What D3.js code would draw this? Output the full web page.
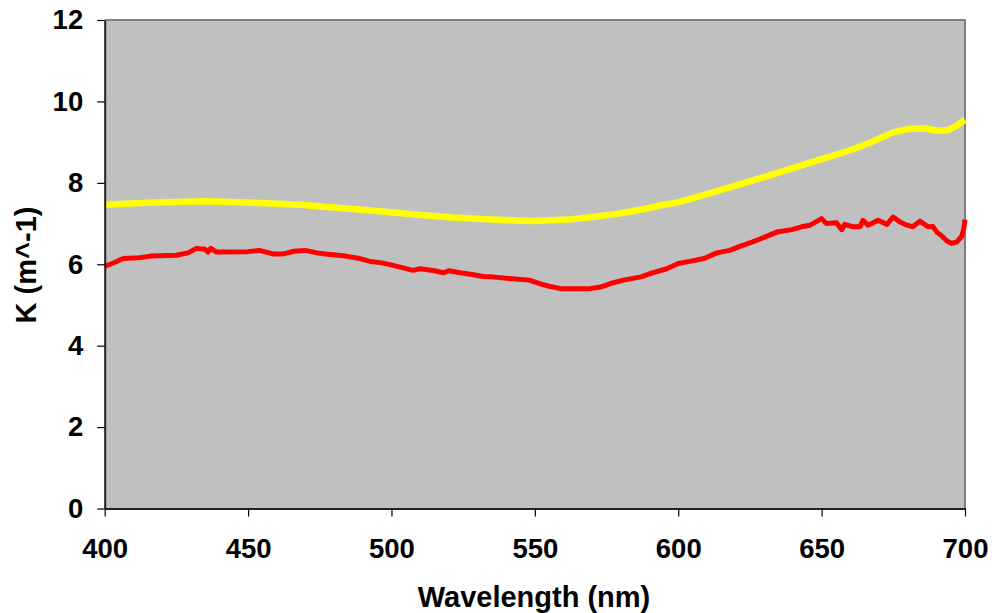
<!DOCTYPE html>
<html>
<head>
<meta charset="utf-8">
<script src="https://cdn.jsdelivr.net/npm/d3@7"></script>
<style>
  html, body { margin: 0; padding: 0; background: #ffffff; }
  svg { display: block; }
  text { font-family: "Liberation Sans", Arial, sans-serif; font-weight: bold; fill: #000; }
</style>
</head>
<body>
<svg id="chart" width="992" height="613"></svg>
<script>
// Wavelength (nm) and K (m^-1) values
const yellowWavelength = [400, 415, 435, 452, 468, 482, 495, 507, 521, 535, 549, 562, 570, 577, 583, 589, 594, 600, 610, 620, 628.5, 640, 650, 660, 668, 675, 680, 686, 690, 694, 697, 700];
const yellowK          = [7.46, 7.51, 7.55, 7.51, 7.46, 7.38, 7.31, 7.23, 7.15, 7.10, 7.06, 7.10, 7.16, 7.22, 7.29, 7.37, 7.45, 7.52, 7.72, 7.93, 8.11, 8.36, 8.58, 8.80, 9.02, 9.24, 9.32, 9.34, 9.28, 9.29, 9.40, 9.55];

const redWavelength = [400, 403, 406.5, 412, 416, 425, 429, 432, 435, 436, 437, 439, 450, 454, 459, 462, 466, 470, 474, 477, 484, 489, 492.5, 496, 499.5, 504, 507.5, 510, 515, 518, 520, 524, 528, 532, 535, 541, 548, 552, 555, 559, 569, 573, 577, 581, 587, 591, 596, 600, 604, 609, 613.5, 618, 621.5, 626, 631, 634.4, 639.6, 643, 646, 650, 651.7, 655.2, 657, 658.1, 661, 663.4, 664.4, 666.2, 669.7, 672.8, 674.9, 677.3, 679.8, 681.8, 684.3, 687.1, 688.8, 690.2, 692, 693.7, 695.4, 697.2, 698.9, 699.6, 700];
const redK          = [5.95, 6.03, 6.14, 6.16, 6.20, 6.22, 6.28, 6.39, 6.37, 6.30, 6.39, 6.30, 6.31, 6.34, 6.25, 6.25, 6.32, 6.34, 6.28, 6.25, 6.20, 6.14, 6.07, 6.04, 5.99, 5.91, 5.85, 5.89, 5.84, 5.79, 5.84, 5.79, 5.75, 5.70, 5.69, 5.65, 5.61, 5.52, 5.46, 5.40, 5.40, 5.44, 5.54, 5.61, 5.69, 5.79, 5.89, 6.02, 6.07, 6.14, 6.28, 6.34, 6.44, 6.55, 6.69, 6.79, 6.85, 6.92, 6.96, 7.12, 7.00, 7.02, 6.85, 6.98, 6.92, 6.92, 7.08, 6.96, 7.08, 6.98, 7.16, 7.04, 6.96, 6.92, 7.06, 6.92, 6.93, 6.79, 6.69, 6.57, 6.51, 6.55, 6.69, 6.88, 7.10];

const xTicks = [400, 450, 500, 550, 600, 650, 700];
const yTicks = [0, 2, 4, 6, 8, 10, 12];
const xTitle = "Wavelength (nm)";
const yTitle = "K (m^-1)";

const svg = d3.select("#chart");
const pLeft = 104.7, pRight = 965, pTop = 20, pBottom = 508.5;

const x = d3.scaleLinear().domain([400, 700]).range([pLeft, pRight]);
const y = d3.scaleLinear().domain([0, 12]).range([pBottom, pTop]);

// plot area
svg.append("rect")
  .attr("x", pLeft).attr("y", pTop)
  .attr("width", pRight - pLeft).attr("height", pBottom - pTop)
  .attr("fill", "#c0c0c0");

// top and right border (gray)
svg.append("path")
  .attr("d", `M${pLeft},${pTop}H${pRight}V${pBottom}`)
  .attr("fill", "none").attr("stroke", "#808080").attr("stroke-width", 2);

const line = d3.line().x(d => x(d[0])).y(d => y(d[1]));

const yellowData = yellowWavelength.map((w, i) => [w, yellowK[i]]);
const redData = redWavelength.map((w, i) => [w, redK[i]]);

svg.append("path").datum(yellowData)
  .attr("d", line).attr("fill", "none")
  .attr("stroke", "#ffff00").attr("stroke-width", 6.5)
  .attr("stroke-linejoin", "round");

svg.append("path").datum(redData)
  .attr("d", line).attr("fill", "none")
  .attr("stroke", "#ff0000").attr("stroke-width", 5)
  .attr("stroke-linejoin", "round");

// axes
const xAxis = svg.append("g")
  .attr("transform", `translate(0,${pBottom})`)
  .call(d3.axisBottom(x).tickValues(xTicks).tickSize(8).tickPadding(22).tickSizeOuter(0));
const yAxis = svg.append("g")
  .attr("transform", `translate(${pLeft},0)`)
  .call(d3.axisLeft(y).tickValues(yTicks).tickSize(7.5).tickPadding(14).tickSizeOuter(0));

[xAxis, yAxis].forEach(g => {
  g.select(".domain").attr("stroke", "#222").attr("stroke-width", 2);
  g.selectAll(".tick line").attr("stroke", "#000").attr("stroke-width", 1.2);
  g.selectAll(".tick text")
    .attr("font-family", "Liberation Sans, Arial, sans-serif")
    .attr("font-weight", "bold")
    .attr("font-size", 27.5)
    .attr("fill", "#000");
});

// titles
svg.append("text")
  .attr("x", 534).attr("y", 606.5)
  .attr("text-anchor", "middle")
  .attr("font-size", 29)
  .text(xTitle);

svg.append("text")
  .attr("transform", "translate(36,265) rotate(-90)")
  .attr("text-anchor", "middle")
  .attr("font-size", 29)
  .text(yTitle);
</script>
</body>
</html>
